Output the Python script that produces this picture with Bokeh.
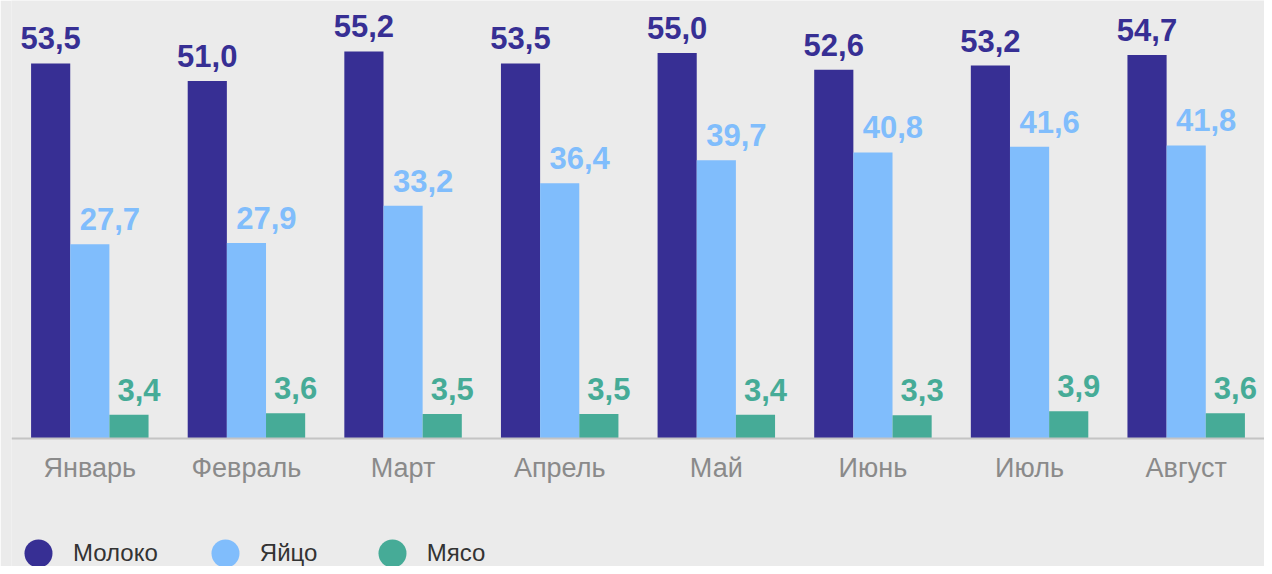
from bokeh.plotting import figure
from bokeh.models import ColumnDataSource, Range1d, FactorRange, Legend, LegendItem
from bokeh.transform import dodge
from bokeh.core.properties import value
from bokeh.embed import file_html
from bokeh.resources import INLINE

months = ["Январь", "Февраль", "Март", "Апрель", "Май", "Июнь", "Июль", "Август"]
milk = [53.5, 51.0, 55.2, 53.5, 55.0, 52.6, 53.2, 54.7]
eggs = [27.7, 27.9, 33.2, 36.4, 39.7, 40.8, 41.6, 41.8]
meat = [3.4, 3.6, 3.5, 3.5, 3.4, 3.3, 3.9, 3.6]
series_names = ["Молоко", "Яйцо", "Мясо"]
colors = ["#372f94", "#80bdfc", "#46ab97"]

def fmt(v):
    return f"{v:.1f}".replace(".", ",")

src = ColumnDataSource(data=dict(
    month=months,
    milk=milk, eggs=eggs, meat=meat,
    milk_lbl=[fmt(v) for v in milk],
    eggs_lbl=[fmt(v) for v in eggs],
    meat_lbl=[fmt(v) for v in meat],
))

BG = "#ebebeb"
W, H = 1264, 566
PX_PER_UNIT = 7.011
ZERO_Y = 438  # pixel row of the zero line from the top

p = figure(
    x_range=FactorRange(factors=months),
    y_range=Range1d(-(H - ZERO_Y) / PX_PER_UNIT, ZERO_Y / PX_PER_UNIT),
    width=W, height=H,
    output_backend="svg", toolbar_location=None,
    y_axis_location=None,
    min_border_left=11, min_border_right=0, min_border_top=0, min_border_bottom=0,
    background_fill_color=BG, border_fill_color=BG,
    outline_line_color=None,
)
p.grid.visible = False

keys = ["milk", "eggs", "meat"]
offsets = [-0.25, 0.0, 0.25]
label_dx = [0, 20, 10]
for key, off, col, dx in zip(keys, offsets, colors, label_dx):
    p.vbar(x=dodge("month", off, range=p.x_range), top=key, width=0.25, bottom=0,
           source=src, fill_color=col, line_color=None)
    p.text(x=dodge("month", off, range=p.x_range), y=key, text=key + "_lbl", source=src,
           text_font=value("Liberation Sans"), text_font_style="bold",
           text_font_size="31px", text_color=col, text_align="center",
           text_baseline="alphabetic", x_offset=dx, y_offset=-25)

ax = p.xaxis[0]
ax.fixed_location = 0
ax.axis_line_color = "#c4c4c4"
ax.axis_line_width = 2
ax.major_tick_line_color = None
ax.minor_tick_line_color = None
ax.major_tick_out = 0
ax.major_label_standoff = 14
ax.major_label_text_font = "Liberation Sans"
ax.major_label_text_font_size = "27px"
ax.major_label_text_color = "#8a8a8a"

items = []
for name, col in zip(series_names, colors):
    r = p.scatter(x=[months[0]], y=[float("nan")], marker="circle", size=10,
                  fill_color=col, line_color=None)
    items.append(LegendItem(label=name, renderers=[r]))

legend = Legend(items=items, orientation="horizontal", location=(-8, -22),
                glyph_width=70, glyph_height=70, label_standoff=0, spacing=32,
                label_width=65,
                padding=0, margin=0, border_line_color=None, background_fill_alpha=0,
                label_text_font="Liberation Sans", label_text_font_size="24px",
                label_text_color="#333333")
p.add_layout(legend, "center")

open("out.html", "w").write(file_html(p, INLINE))
